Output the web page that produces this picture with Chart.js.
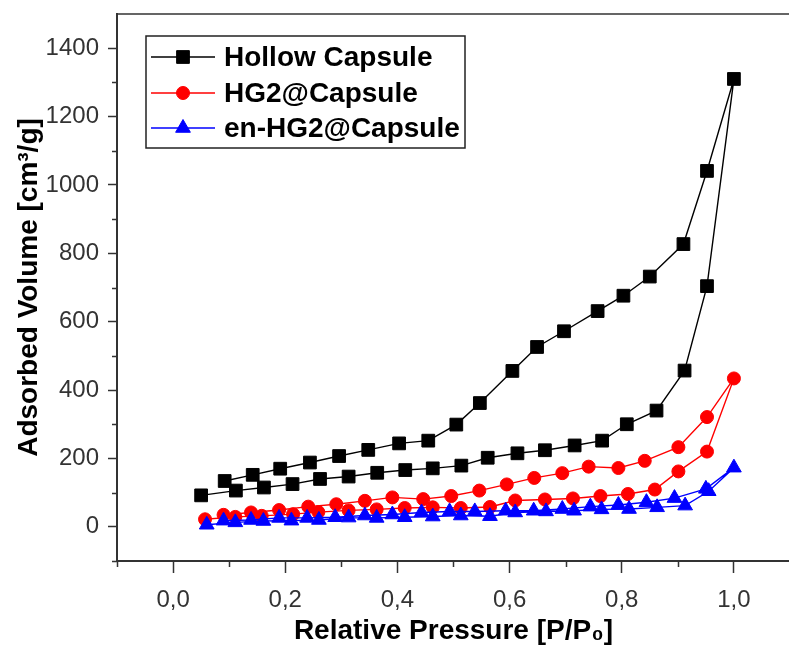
<!DOCTYPE html>
<html><head><meta charset="utf-8">
<script src="https://cdn.jsdelivr.net/npm/chart.js@4/dist/chart.umd.min.js"></script>
<style>
html,body{margin:0;padding:0;background:#fff;overflow:hidden;}
#wrap{position:relative;width:800px;height:650px;}
</style></head><body>
<div id="wrap"><canvas id="c" width="800" height="650"></canvas></div>
<script>
// ---------- data ----------
const seriesNames = ['Hollow Capsule', 'HG2@Capsule', 'en-HG2@Capsule'];

// Hollow Capsule: adsorption branch then desorption branch
const hollowX = [0.05, 0.112, 0.162, 0.213, 0.262, 0.313, 0.364, 0.414, 0.463, 0.514, 0.561, 0.614, 0.663, 0.716, 0.765, 0.809, 0.862, 0.912, 0.952, 1.0,
                 0.952, 0.910, 0.850, 0.803, 0.757, 0.697, 0.649, 0.605, 0.547, 0.505, 0.455, 0.403, 0.348, 0.296, 0.244, 0.191, 0.142, 0.092];
const hollowY = [92, 106, 115, 125, 140, 147, 158, 166, 171, 179, 202, 215, 224, 238, 252, 300, 340, 457, 704, 1310,
                 1041, 827, 732, 676, 631, 572, 526, 456, 362, 299, 252, 244, 225, 207, 188, 170, 152, 134];

// HG2@Capsule
const hg2X = [0.057, 0.111, 0.158, 0.214, 0.259, 0.313, 0.363, 0.413, 0.463, 0.513, 0.565, 0.610, 0.663, 0.713, 0.762, 0.811, 0.859, 0.901, 0.952, 1.0,
              0.952, 0.901, 0.841, 0.794, 0.741, 0.694, 0.644, 0.595, 0.546, 0.496, 0.446, 0.391, 0.342, 0.291, 0.241, 0.189, 0.139, 0.090];
const hg2Y = [22, 29, 32, 37, 43, 48, 51, 55, 57, 55, 58, 77, 80, 83, 90, 96, 109, 162, 220, 434,
              321, 233, 193, 172, 176, 157, 143, 124, 106, 90, 81, 86, 76, 66, 59, 49, 42, 35];

// en-HG2@Capsule
const enX = [0.06, 0.111, 0.161, 0.211, 0.260, 0.313, 0.363, 0.413, 0.463, 0.513, 0.565, 0.610, 0.665, 0.715, 0.764, 0.813, 0.863, 0.913, 0.955, 1.0,
             0.950, 0.894, 0.844, 0.794, 0.744, 0.694, 0.643, 0.593, 0.538, 0.493, 0.443, 0.391, 0.342, 0.289, 0.239, 0.189, 0.139, 0.090];
const enY = [6, 13, 17, 18, 20, 27, 26, 28, 30, 33, 31, 42, 45, 47, 51, 52, 57, 62, 104, 173,
             111, 84, 72, 64, 59, 52, 47, 47, 45, 45, 42, 36, 33, 28, 26, 26, 20, 18];

const xTickValues = [0, 0.2, 0.4, 0.6, 0.8, 1.0];
const xTickLabels = ['0,0', '0,2', '0,4', '0,6', '0,8', '1,0'];
const xMinorTicks = [-0.1, 0.1, 0.3, 0.5, 0.7, 0.9];
const yTickValues = [0, 200, 400, 600, 800, 1000, 1200, 1400];
const yTickLabels = ['0', '200', '400', '600', '800', '1000', '1200', '1400'];
const yMinorTicks = [-100, 100, 300, 500, 700, 900, 1100, 1300];

const xTitle = 'Relative Pressure [P/P\u2080]';
const yTitle = 'Adsorbed Volume [cm\u00B3/g]';

// ---------- chart ----------
const toPts = (xs, ys) => xs.map((x, i) => ({x: x, y: ys[i]}));
const AXIS = '#333333';
const TICKFONT = {family: '"Liberation Sans Narrow", "Arial Narrow", Arial, sans-serif', size: 24};
const TITLEFONT = {family: 'Arial, "Liberation Sans", sans-serif', size: 28, weight: 'bold'};

const styles = [
  {color: '#000000', pointStyle: 'rect', radius: 9, order: 2},
  {color: '#ff0000', pointStyle: 'circle', radius: 6.5, order: 1},
  {color: '#0000ff', pointStyle: 'triangle', radius: 8.5, order: 0}
];
const seriesData = [toPts(hollowX, hollowY), toPts(hg2X, hg2Y), toPts(enX, enY)];

const datasets = seriesNames.map((name, i) => ({
  label: name,
  data: seriesData[i],
  showLine: true,
  borderColor: styles[i].color,
  backgroundColor: styles[i].color,
  borderWidth: 1.4,
  pointStyle: styles[i].pointStyle,
  pointRadius: styles[i].radius,
  pointBorderWidth: 1,
  pointBackgroundColor: styles[i].color,
  pointBorderColor: styles[i].color,
  order: styles[i].order,
  tension: 0
}));

function drawMarker(ctx, style, r, x, y) {
  if (Chart.helpers && Chart.helpers.drawPoint) {
    Chart.helpers.drawPoint(ctx, {pointStyle: style, radius: r, rotation: 0, borderWidth: 1}, x, y);
    return;
  }
  ctx.beginPath();
  if (style === 'rect') {
    const s = r * Math.SQRT1_2; ctx.rect(x - s, y - s, 2 * s, 2 * s);
  } else if (style === 'circle') {
    ctx.arc(x, y, r, 0, Math.PI * 2);
  } else {
    ctx.moveTo(x, y - r);
    ctx.lineTo(x + Math.sin(2 * Math.PI / 3) * r, y + r / 2);
    ctx.lineTo(x - Math.sin(2 * Math.PI / 3) * r, y + r / 2);
    ctx.closePath();
  }
  ctx.fill(); ctx.stroke();
}

const framePlugin = {
  id: 'frame',
  afterDraw(chart) {
    const {ctx, chartArea: ca, scales} = chart;
    ctx.save();
    // top & right frame lines
    ctx.strokeStyle = AXIS;
    ctx.lineWidth = 1.5;
    ctx.beginPath();
    ctx.moveTo(ca.left, ca.top); ctx.lineTo(ca.right, ca.top); ctx.lineTo(ca.right, ca.bottom);
    ctx.stroke();
    // minor ticks
    ctx.lineWidth = 1.5;
    ctx.beginPath();
    xMinorTicks.forEach(v => {
      const px = Math.round(scales.x.getPixelForValue(v)) + 0.5;
      ctx.moveTo(px, ca.bottom); ctx.lineTo(px, ca.bottom + 6);
    });
    yMinorTicks.forEach(v => {
      const py = Math.round(scales.y.getPixelForValue(v)) + 0.5;
      ctx.moveTo(ca.left - 5, py); ctx.lineTo(ca.left, py);
    });
    ctx.stroke();

    // legend box
    const bx = 146, by = 36, bw = 319, bh = 112;
    ctx.lineWidth = 1.5;
    ctx.strokeStyle = '#222';
    ctx.fillStyle = '#fff';
    ctx.fillRect(bx, by, bw, bh);
    ctx.strokeRect(bx, by, bw, bh);
    const rows = [57, 93, 128];
    seriesNames.forEach((name, i) => {
      const y = rows[i];
      ctx.strokeStyle = styles[i].color;
      ctx.fillStyle = styles[i].color;
      ctx.lineWidth = 1.4;
      ctx.beginPath(); ctx.moveTo(151, y); ctx.lineTo(215, y); ctx.stroke();
      ctx.lineWidth = 1;
      drawMarker(ctx, styles[i].pointStyle, styles[i].radius, 183, y);
      ctx.fillStyle = '#000';
      ctx.font = 'bold 28px Arial, "Liberation Sans", sans-serif';
      ctx.textBaseline = 'middle';
      ctx.textAlign = 'left';
      ctx.fillText(name, 224, y + 1);
    });
    ctx.restore();
  }
};

function zeroPad(s) { s.paddingTop = 0; s.paddingBottom = 0; s.paddingLeft = 0; s.paddingRight = 0; }

new Chart(document.getElementById('c'), {
  type: 'scatter',
  data: {datasets: datasets},
  options: {
    responsive: false,
    animation: false,
    devicePixelRatio: 1,
    layout: {padding: {left: 0, top: 14, right: 4, bottom: 0}},
    plugins: {legend: {display: false}, tooltip: {enabled: false}},
    scales: {
      x: {
        type: 'linear', min: -0.1, max: 1.1,
        afterBuildTicks: s => { s.ticks = xTickValues.map(v => ({value: v})); },
        afterFit: s => { s.height = 89; zeroPad(s); },
        ticks: {callback: (v, i) => xTickLabels[i], font: TICKFONT, color: '#333', padding: 13, maxRotation: 0, autoSkip: false},
        grid: {drawOnChartArea: false, drawTicks: true, tickLength: 12, tickWidth: 1.5, tickColor: AXIS},
        border: {display: true, color: AXIS, width: 2},
        title: {display: true, text: xTitle, font: TITLEFONT, color: '#000', padding: {top: 0, bottom: 2}}
      },
      y: {
        type: 'linear', min: -100, max: 1500,
        afterBuildTicks: s => { s.ticks = yTickValues.map(v => ({value: v})); },
        afterFit: s => { s.width = 117; zeroPad(s); },
        ticks: {callback: (v, i) => yTickLabels[i], font: TICKFONT, color: '#333', padding: 9, autoSkip: false},
        grid: {drawOnChartArea: false, drawTicks: true, tickLength: 9, tickWidth: 1.5, tickColor: AXIS},
        border: {display: true, color: AXIS, width: 2},
        title: {display: true, text: yTitle, font: TITLEFONT, color: '#000', padding: {top: 12, bottom: 0}}
      }
    }
  },
  plugins: [framePlugin]
});
</script>
</body></html>
